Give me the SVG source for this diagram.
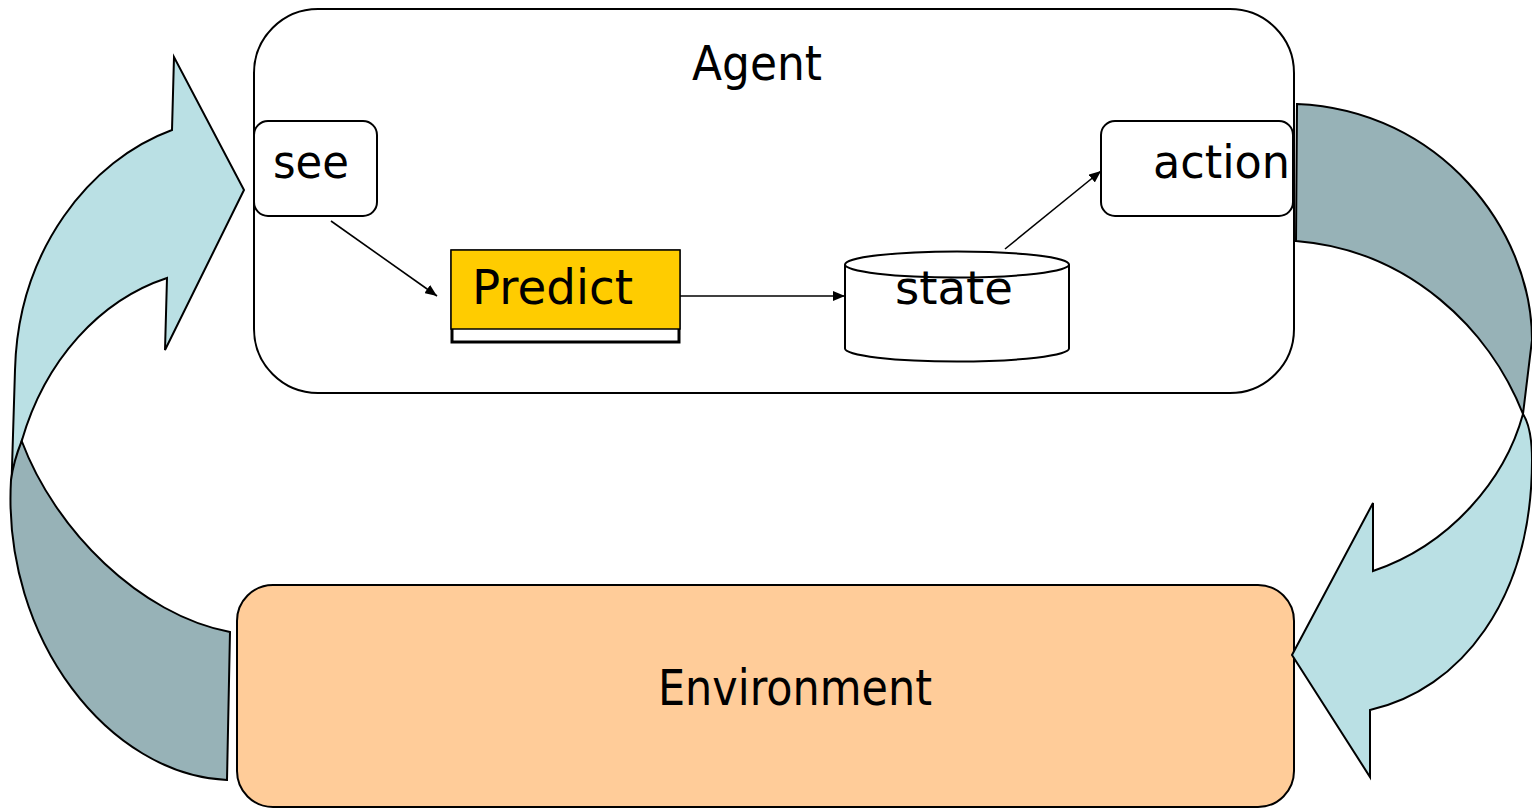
<svg xmlns="http://www.w3.org/2000/svg" width="1532" height="809" viewBox="0 0 1532 809">
<style>
.lbl{font-family:"Comic Sans MS","DejaVu Sans",sans-serif;fill:#000}
.box{fill:#fff;stroke:#000;stroke-width:2}
.ln{stroke:#000;stroke-width:1.6;fill:none}
.light{fill:#BAE0E4;stroke:#000;stroke-width:2;stroke-linejoin:miter}
.dark{fill:#97B2B7;stroke:#000;stroke-width:2}
</style>
<defs>
<marker id="ah" viewBox="0 0 12 10" refX="12" refY="5" markerWidth="12" markerHeight="10" markerUnits="userSpaceOnUse" orient="auto">
<path d="M0,0 L12,5 L0,10 Z" fill="#000"/>
</marker>
</defs>
<rect width="1532" height="809" fill="#fff"/>

<g id="agent">
<rect class="box" x="254" y="9" width="1040" height="384" rx="64" ry="64"/>
<text class="lbl" x="692" y="80" font-size="48" textLength="130" lengthAdjust="spacingAndGlyphs">Agent</text>
</g>

<g id="environment">
<rect x="237" y="585" width="1057" height="222" rx="36" ry="36" fill="#FFCC99" stroke="#000" stroke-width="2"/>
<text class="lbl" x="658" y="705" font-size="50" textLength="274" lengthAdjust="spacingAndGlyphs">Environment</text>
</g>

<g id="see">
<rect class="box" x="254" y="121" width="123" height="95" rx="14" ry="14"/>
<text class="lbl" x="273" y="178" font-size="46" textLength="76" lengthAdjust="spacingAndGlyphs">see</text>
</g>

<g id="action">
<rect class="box" x="1101" y="121" width="192" height="95" rx="14" ry="14"/>
<text class="lbl" x="1153" y="178" font-size="46" textLength="137" lengthAdjust="spacingAndGlyphs">action</text>
</g>

<g id="predict">
<rect x="452" y="251" width="227" height="91" fill="#fff" stroke="#000" stroke-width="3"/>
<rect x="451" y="250" width="229" height="79" fill="#FFCC00" stroke="#000" stroke-width="1.5"/>
<text class="lbl" x="472" y="304" font-size="48" textLength="161" lengthAdjust="spacingAndGlyphs">Predict</text>
</g>

<g id="state">
<path d="M845,264.5 L845,348.5 A112,13 0 0 0 1069,348.5 L1069,264.5" fill="#fff" stroke="#000" stroke-width="2"/>
<ellipse cx="957" cy="264.5" rx="112" ry="13" fill="#fff" stroke="#000" stroke-width="2"/>
<text class="lbl" x="895" y="304" font-size="46" textLength="118" lengthAdjust="spacingAndGlyphs">state</text>
</g>

<g id="connectors">
<line class="ln" x1="331" y1="221" x2="437" y2="296" marker-end="url(#ah)"/>
<line class="ln" x1="680" y1="296" x2="845" y2="296" marker-end="url(#ah)"/>
<line class="ln" x1="1005" y1="249" x2="1101" y2="171" marker-end="url(#ah)"/>
<g id="perceive-arrow">
<path class="light" d="M167,278 L165,350 L244,190 L174,57 L172,130 C90,160 18,250 15,370 L11,500 L21.7,441 C45,360 100,300 167,278 Z"/>
<path class="dark" d="M21.7,441 C16,455 13,465 11,480 C2,640 110,775 227,780 L230,632 C140,615 55,530 21.7,441 Z"/>
</g>
<g id="act-arrow">
<path class="dark" d="M1297,104 C1440,110 1532,230 1532,340 L1523,414 C1490,330 1410,250 1296,241 Z"/>
<path class="light" d="M1523,414 C1530,425 1532,440 1532,460 C1532,600 1460,690 1370,710 L1370,777 L1292,655 L1373,503 L1373,571 C1450,545 1505,480 1523,414 Z"/>
</g>
</g>
</svg>
